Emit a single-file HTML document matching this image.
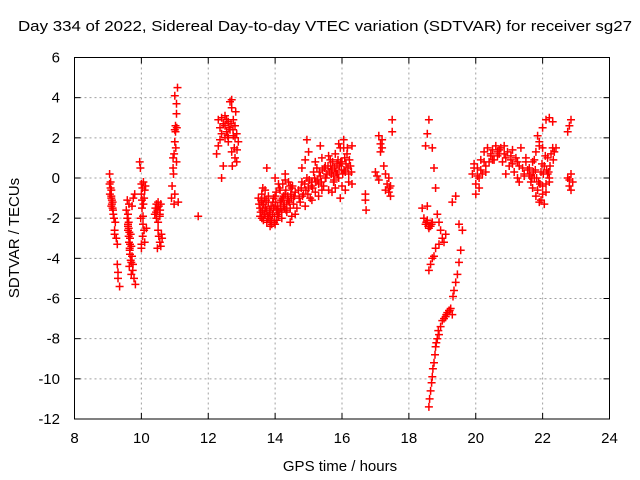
<!DOCTYPE html>
<html><head><meta charset="utf-8">
<style>
html,body{margin:0;padding:0;background:#fff;}
svg{display:block;font-family:"Liberation Sans",sans-serif;}
</style></head>
<body>
<svg id="chart" width="640" height="480" viewBox="0 0 640 480" xmlns="http://www.w3.org/2000/svg">
<rect x="0" y="0" width="640" height="480" fill="#fff"/>
<text x="18" y="31" textLength="614" lengthAdjust="spacingAndGlyphs" font-size="15" fill="#000">Day 334 of 2022, Sidereal Day-to-day VTEC variation (SDTVAR) for receiver sg27</text>
<g id="grid"></g>
<g id="ticks"></g>
<g id="points"></g>
<rect x="74.5" y="57.5" width="535" height="361.5" fill="none" stroke="#000" stroke-width="1"/>
<text x="340" y="471" text-anchor="middle" font-size="15">GPS time / hours</text>
<text transform="translate(19,238) rotate(-90)" text-anchor="middle" font-size="15">SDTVAR / TECUs</text>
</svg>
<script>
const xTicks=[8,10,12,14,16,18,20,22,24];
const yTicks=[6,4,2,0,-2,-4,-6,-8,-10,-12];
// scatter clusters: hours and values (paired)
const c1h=[9.05,9.05,9.08,9.1,9.1,9.12,9.15,9.1,9.12,9.18,9.2,9.22,9.25,9.28,9.28,9.3,9.3,9.35,9.08,9.14,9.16,9.2,9.06,9.1,9.14];
const c1v=[0.2,-0.3,-0.5,-0.6,-1.0,-1.3,-1.6,-0.9,-1.1,-2.0,-2.6,-2.2,-3.0,-3.3,-4.3,-4.7,-5.0,-5.4,-0.2,-1.5,-1.8,-2.8,-0.8,-1.4,-1.2];
const c2h=[9.55,9.58,9.6,9.6,9.62,9.63,9.65,9.66,9.68,9.6,9.62,9.64,9.66,9.7,9.72,9.75,9.74,9.7,9.65,9.63,9.58,9.6,9.68,9.72,9.76,9.8,9.82,9.78,9.64,9.7,9.66,9.62];
const c2v=[-1.6,-2.0,-2.3,-2.6,-2.9,-3.2,-3.5,-3.8,-4.1,-1.8,-2.2,-2.7,-3.0,-3.4,-3.9,-4.3,-4.6,-4.2,-3.6,-1.3,-1.1,-2.4,-2.8,-1.4,-1.0,-0.8,-5.3,-5.0,-4.4,-4.8,-3.3,-2.5];
const c3h=[9.95,9.97,10.0,10.0,10.02,10.02,10.05,10.05,10.08,10.1,10.0,9.98,10.03,10.06,10.1,10.12,10.15,10.04,10.0,10.06,10.08];
const c3v=[0.8,0.5,-0.3,-0.8,-1.1,-1.5,-1.9,-2.3,-2.6,-3.2,-3.5,-2.0,-0.5,-1.3,-0.6,-0.4,-2.5,-2.9,-3.3,-0.2,-1.0];
const c4h=[10.4,10.42,10.45,10.48,10.5,10.52,10.55,10.58,10.45,10.5,10.55,10.5,10.52,10.55,10.6,10.48,10.62,10.58,10.44,10.56];
const c4v=[-1.8,-1.5,-1.3,-1.6,-1.2,-1.4,-1.8,-1.3,-2.0,-2.2,-1.9,-2.6,-2.9,-3.2,-2.8,-3.5,-3.0,-3.4,-1.7,-1.6];
const c5h=[10.9,10.92,10.95,10.95,10.98,11.0,11.0,11.02,11.05,11.05,11.08,11.0,11.02,11.03,11.05,11.0,10.98,11.1,11.06,10.96];
const c5v=[-1.0,-0.4,0.5,1.0,1.2,1.8,2.4,2.6,3.2,3.7,4.5,4.1,2.3,1.5,0.8,-0.8,-1.3,-1.2,2.5,0.2];
const c6h=[11.7,12.25,12.3,12.3,12.35,12.35,12.4,12.4,12.45,12.5,12.5,12.55,12.6,12.6,12.65,12.65,12.7,12.7,12.75,12.75,12.8,12.8,12.85,12.85,12.9,12.72,12.78,12.82,12.6,12.45,12.4,12.5,12.55,12.62,12.68,12.74,12.8,12.86,12.7,12.58];
const c6v=[-1.9,1.2,1.6,2.9,2.5,1.9,3.0,2.2,2.7,2.6,3.1,2.3,2.8,1.8,3.8,2.4,3.9,1.3,2.9,2.1,2.6,1.0,2.2,0.8,1.8,0.6,1.5,3.3,2.0,0.6,0.0,2.0,2.9,2.5,2.7,2.4,2.0,1.4,3.5,2.1];
const c7h=[13.5,13.55,13.6,13.6,13.65,13.7,13.7,13.75,13.8,13.85,13.9,13.95,14.0,14.0,14.05,14.1,14.15,14.2,14.25,14.3,14.35,14.4,14.45,14.5,14.55,14.6,13.55,13.65,13.75,13.85,13.95,14.05,14.15,14.25,14.35,14.45,14.55,13.6,13.8,14.0,14.2,14.4,14.6,13.7,13.9,14.1,14.3,14.5,13.75,14.0,14.3,14.45];
const c7v=[-1.0,-1.5,-0.8,-2.0,-1.3,-0.6,-1.8,-2.2,-1.2,-1.7,-2.1,-1.5,-2.3,-0.9,-1.6,-1.9,-1.2,-2.0,-1.4,-0.8,-1.7,-1.1,-1.5,-0.5,-1.3,-0.7,-1.9,-2.1,-1.6,-2.4,-1.0,-2.1,-0.6,-0.9,-1.3,-0.4,-1.0,-1.2,-0.9,-1.4,-1.7,-0.2,-1.8,-1.5,-2.3,-0.3,-0.1,-1.9,0.5,0.0,0.2,-2.2];
const c7bh=[13.52,13.58,13.62,13.68,13.72,13.78,13.82,13.88,13.92,13.98,14.02,14.08,14.12,14.18,14.22,14.28,14.32,14.38,14.42,14.48,14.52,14.58,13.57,13.67,13.77,13.87,13.97,14.07,14.17,14.27,14.37,14.47,13.63,13.73,13.83,13.93,14.03,14.13,14.23,14.33];
const c7bv=[-1.3,-1.1,-1.6,-1.0,-1.5,-1.9,-2.0,-1.4,-1.8,-1.9,-1.2,-1.4,-1.7,-1.1,-1.0,-1.5,-0.6,-0.9,-1.2,-1.0,-0.4,-0.9,-1.7,-1.8,-2.0,-2.1,-2.2,-1.8,-1.5,-1.3,-1.0,-0.8,-0.5,-1.1,-1.6,-1.2,-0.7,-0.5,-0.3,-1.6];
const c8h=[14.7,14.75,14.8,14.85,14.9,14.95,15.0,15.05,15.1,15.15,15.2,15.25,15.3,15.35,15.4,15.45,15.5,15.55,15.6,15.65,15.7,15.75,15.8,15.85,15.9,15.95,16.0,16.05,16.1,16.15,16.2,16.25,16.3,14.8,14.9,15.0,15.1,15.2,15.3,15.4,15.5,15.6,15.7,15.8,15.9,16.0,16.1,16.2,16.3,15.35,15.75,15.95,16.05,14.65,14.95];
const c8v=[-0.6,-1.2,-0.2,-0.8,-1.4,0.0,-0.5,-1.0,-0.2,0.3,-0.7,0.5,-0.3,0.1,1.0,-0.4,0.6,0.2,-0.6,0.9,0.4,-0.2,1.2,0.7,0.0,1.5,0.8,1.9,0.3,1.2,-0.2,0.6,1.6,0.5,0.9,1.3,-1.1,0.8,-0.9,-0.6,0.0,1.1,-0.7,-0.5,1.7,-0.4,-0.6,0.2,-0.3,1.6,0.1,-1.0,1.5,-1.5,1.9];
const c8bh=[14.72,14.78,14.82,14.88,14.92,14.98,15.02,15.08,15.12,15.18,15.22,15.28,15.32,15.38,15.42,15.48,15.52,15.58,15.62,15.68,15.72,15.78,15.82,15.88,15.92,15.98,16.02,16.08,16.12,16.18,16.22,16.28,15.66,15.76,15.86,15.96,16.06,16.16];
const c8bv=[-1.0,-0.5,-0.9,-0.3,-0.6,-0.8,-0.1,-0.4,-0.5,0.0,-0.2,-0.1,0.3,-0.2,0.4,0.5,0.0,0.6,0.3,0.2,0.8,0.5,0.3,0.9,0.6,0.4,0.2,1.0,0.7,0.5,0.9,0.3,0.6,-0.1,0.2,0.8,0.4,1.5];
const c9h=[16.7,16.7,16.72,17.0,17.05,17.1,17.15,17.2,17.25,17.3,17.35,17.4,17.45,17.5,17.1,17.2,17.3,17.4,17.5,17.15,17.45,17.42];
const c9v=[-0.8,-1.1,-1.6,0.3,0.1,2.1,1.7,1.5,0.6,0.2,-0.3,-0.7,-0.4,2.9,-0.1,1.9,-0.6,0.0,2.3,1.3,-0.9,-0.5];
const c10h=[18.4,18.45,18.5,18.55,18.6,18.65,18.7,18.5,18.55,18.6,18.7,18.75,18.8,18.85,18.9,18.95,19.0,19.05,19.1,18.75,18.8,18.9,18.6,18.65,18.7,18.55,18.62,18.52,18.58,18.68];
const c10v=[-1.5,-2.0,-2.3,-2.1,-2.5,-2.4,-2.2,1.6,2.2,2.9,1.5,0.5,-0.5,-1.8,-2.2,-2.6,-3.0,-3.2,-2.8,-3.9,-3.5,-3.3,-4.6,-4.3,-4.0,-1.4,-2.4,-2.2,-2.4,-2.3];
const c11h=[18.6,18.62,18.65,18.68,18.7,18.72,18.75,18.78,18.8,18.85,18.9,18.95,19.0,19.05,19.1,19.15,19.2,19.25,19.3,19.32,19.35,19.4,19.45,19.5,19.55,19.6,19.3,19.4,19.5,18.82,18.88,19.12,19.22];
const c11v=[-11.4,-11.0,-10.6,-10.2,-9.9,-9.5,-9.2,-8.8,-8.4,-8.0,-7.8,-7.4,-7.1,-7.0,-6.9,-6.7,-6.6,-6.5,-6.8,-5.9,-5.6,-5.2,-4.8,-4.2,-3.6,-2.6,-1.2,-0.9,-2.3,-8.2,-7.6,-6.8,-6.6];
const c12h=[19.9,19.95,20.0,20.05,20.1,20.15,20.2,20.25,20.3,20.35,20.4,20.45,20.5,20.55,20.6,20.65,20.7,20.75,20.8,20.85,20.9,20.95,21.0,21.05,21.1,21.15,21.2,21.25,21.3,21.35,21.4,21.45,21.5,21.55,21.6,20.0,20.1,20.3,20.5,20.7,20.9,21.1,21.3,21.5,19.95,20.05,20.15,20.25,20.45,20.65,20.85,21.05,21.25,21.45];
const c12v=[0.2,0.7,-0.3,0.5,0.0,0.9,0.2,1.3,0.6,1.5,0.8,1.2,1.4,0.9,1.6,1.1,1.4,1.5,0.8,1.6,1.0,1.3,0.6,0.9,1.4,0.3,1.0,0.0,0.6,1.5,0.5,0.1,1.0,0.4,0.2,-0.8,-0.5,0.3,0.9,1.2,0.2,0.7,-0.2,0.8,0.5,0.1,0.4,0.8,1.1,1.3,1.2,1.1,0.8,0.2];
const c13h=[21.6,21.65,21.7,21.75,21.8,21.85,21.9,21.95,22.0,22.05,22.1,22.15,22.2,22.25,22.3,22.35,21.7,21.8,21.9,22.0,22.1,22.2,21.85,22.0,22.1,22.2,22.3,22.4,21.95,22.05,22.15,21.9,22.0,21.75,22.75,22.8,22.85,22.9,22.75,22.8,22.85,21.62,21.72,21.82,21.92,22.02,22.12,22.22,22.32,21.68,21.78,21.88,21.98,22.08,22.18,22.8,22.85];
const c13v=[0.5,-0.2,0.8,0.0,1.3,-0.6,1.6,0.3,-0.8,0.6,-0.3,1.0,0.0,1.2,1.5,1.3,-0.5,-0.9,-1.2,-0.4,-0.7,-0.2,2.1,2.5,2.9,3.0,2.8,1.5,-1.1,-1.3,0.2,1.8,1.5,0.9,0.0,-0.4,-0.6,-0.2,2.3,2.6,2.9,0.1,0.3,0.0,-0.3,0.2,0.4,0.6,0.9,0.0,0.4,-0.2,0.7,1.1,0.3,-0.1,0.2];
const clustersH=[c1h,c2h,c3h,c4h,c5h,c6h,c7h,c7bh,c8h,c8bh,c9h,c10h,c11h,c12h,c13h];
const clustersV=[c1v,c2v,c3v,c4v,c5v,c6v,c7v,c7bv,c8v,c8bv,c9v,c10v,c11v,c12v,c13v];

const X0=74.5,X1=609.5,Y0=419,Y1=57.5;
const xs=h=>X0+(h-8)/(24-8)*(X1-X0);
const ys=v=>Y0-(v+12)/(6+12)*(Y0-Y1);
const NS="http://www.w3.org/2000/svg";
const grid=document.getElementById('grid'),ticks=document.getElementById('ticks'),pts=document.getElementById('points');
function mk(tag,attrs,parent){const e=document.createElementNS(NS,tag);for(const k in attrs)e.setAttribute(k,attrs[k]);parent.appendChild(e);return e;}
xTicks.forEach(t=>{
  const x=xs(t);
  if(t>8&&t<24){const g=mk('line',{x1:x,x2:x,y1:Y1,y2:Y0,stroke:'#a0a0a0','stroke-dasharray':'2,3'},grid);
  
  }
  mk('line',{x1:x,x2:x,y1:Y0,y2:Y0-6,stroke:'#000'},ticks);
  mk('line',{x1:x,x2:x,y1:Y1,y2:Y1+6,stroke:'#000'},ticks);
  const l=mk('text',{x:x,y:443,'text-anchor':'middle','font-size':'15'},ticks);
  l.textContent=t;
  
  
});
yTicks.forEach(t=>{
  const y=ys(t);
  if(t<6&&t>-12){const g=mk('line',{x1:X0,x2:X1,y1:y,y2:y,stroke:'#a0a0a0','stroke-dasharray':'2,3'},grid);
  
  }
  mk('line',{x1:X0,x2:X0+6,y1:y,y2:y,stroke:'#000'},ticks);
  mk('line',{x1:X1,x2:X1-6,y1:y,y2:y,stroke:'#000'},ticks);
  const l=mk('text',{x:60,y:y+5,'text-anchor':'end','font-size':'15'},ticks);
  l.textContent=t;
  
  
});
let d='';
clustersH.forEach((hs,i)=>{const vs=clustersV[i];hs.forEach((h,j)=>{const x=xs(h),y=ys(vs[j]);
  d+=`M${(x-4).toFixed(1)} ${y.toFixed(1)}h8M${x.toFixed(1)} ${(y-4).toFixed(1)}v8`;});});
const p=mk('path',{d:d,stroke:'#ff0000','stroke-width':'1.5',fill:'none'},pts);


</script>
</body></html>
